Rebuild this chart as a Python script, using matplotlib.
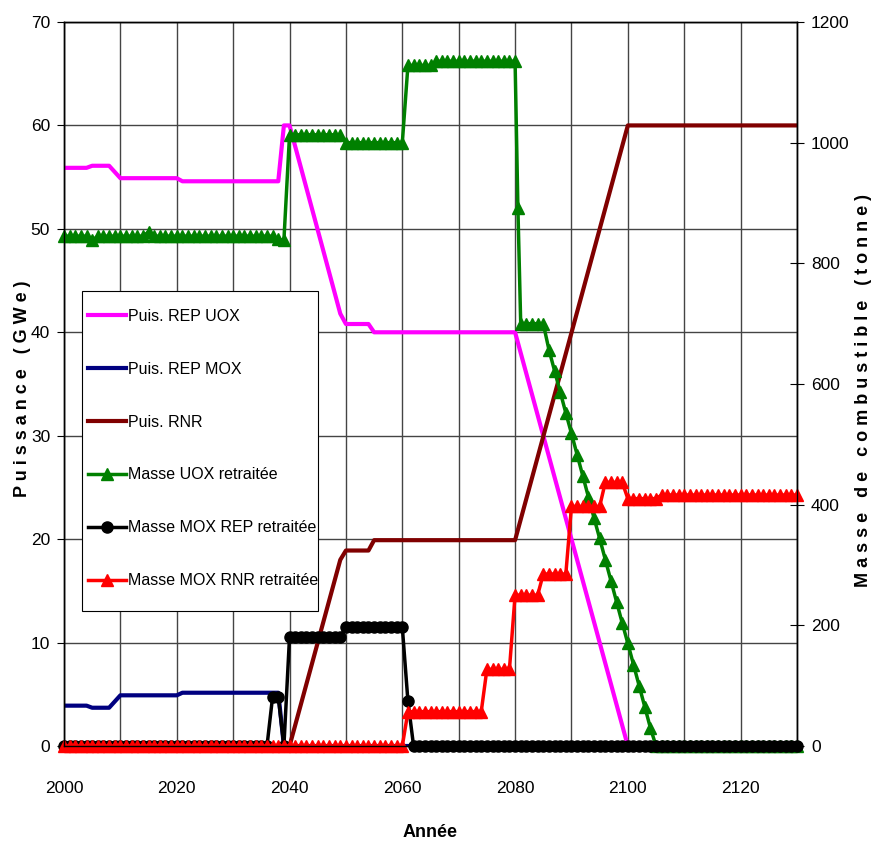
import numpy as np
import matplotlib.pyplot as plt
from matplotlib.patches import Rectangle
from matplotlib.ticker import MultipleLocator

plt.rcParams['font.family'] = ['Liberation Sans', 'DejaVu Sans']

# ---------------------- Données ----------------------
# Puissances (GWe), axe de gauche : sommets des courbes
uox_years = [2000, 2004, 2005, 2008, 2010, 2020, 2021, 2038, 2039, 2040, 2049, 2050, 2054, 2055, 2080, 2100, 2130]
uox_power = [55.9, 55.9, 56.1, 56.1, 54.9, 54.9, 54.6, 54.6, 60.0, 60.0, 41.8, 40.8, 40.8, 40.0, 40.0, 0.0, 0.0]

mox_years = [2000, 2004, 2005, 2008, 2010, 2020, 2021, 2038, 2039, 2130]
mox_power = [3.9, 3.9, 3.7, 3.7, 4.9, 4.9, 5.15, 5.15, 0.0, 0.0]

rnr_years = [2000, 2040, 2049, 2050, 2054, 2055, 2080, 2100, 2130]
rnr_power = [0.0, 0.0, 18.0, 18.9, 18.9, 19.9, 19.9, 60.0, 60.0]

# Masses retraitées (tonne), axe de droite : une valeur par an, 2000..2130
years = np.arange(2000, 2131)

uox_mass = [
    845, 845, 845, 845, 845, 838, 845, 845, 845, 845,
    845, 845, 845, 845, 845, 852, 845, 845, 845, 845,
    845, 845, 845, 845, 845, 845, 845, 845, 845, 845,
    845, 845, 845, 845, 845, 845, 845, 845, 840, 838,
    1013, 1013, 1013, 1013, 1013, 1013, 1013, 1013, 1013, 1013,
    1000, 1000, 1000, 1000, 1000, 1000, 1000, 1000, 1000, 1000,
    1000, 1128, 1128, 1128, 1128, 1128, 1135, 1135, 1135, 1135,
    1135, 1135, 1135, 1135, 1135, 1135, 1135, 1135, 1135, 1135,
    1135, 700, 700, 700, 700, 700, 657, 622, 587, 552,
    518, 483, 448, 413, 378, 344, 309, 274, 239, 204,
    170, 135, 100, 65, 30, 0, 0, 0, 0, 0,
    0, 0, 0, 0, 0, 0, 0, 0, 0, 0,
    0, 0, 0, 0, 0, 0, 0, 0, 0, 0,
    0,
]
# point intermédiaire lors de la chute de 2080
uox_mass_extra_year = 2080.5
uox_mass_extra = 892

mox_rep_mass = [
    0, 0, 0, 0, 0, 0, 0, 0, 0, 0,
    0, 0, 0, 0, 0, 0, 0, 0, 0, 0,
    0, 0, 0, 0, 0, 0, 0, 0, 0, 0,
    0, 0, 0, 0, 0, 0, 0, 82, 82, 0,
    181, 181, 181, 181, 181, 181, 181, 181, 181, 181,
    197, 197, 197, 197, 197, 197, 197, 197, 197, 197,
    197, 74, 0, 0, 0, 0, 0, 0, 0, 0,
    0, 0, 0, 0, 0, 0, 0, 0, 0, 0,
    0, 0, 0, 0, 0, 0, 0, 0, 0, 0,
    0, 0, 0, 0, 0, 0, 0, 0, 0, 0,
    0, 0, 0, 0, 0, 0, 0, 0, 0, 0,
    0, 0, 0, 0, 0, 0, 0, 0, 0, 0,
    0, 0, 0, 0, 0, 0, 0, 0, 0, 0,
    0,
]

mox_rnr_mass = [
    0, 0, 0, 0, 0, 0, 0, 0, 0, 0,
    0, 0, 0, 0, 0, 0, 0, 0, 0, 0,
    0, 0, 0, 0, 0, 0, 0, 0, 0, 0,
    0, 0, 0, 0, 0, 0, 0, 0, 0, 0,
    0, 0, 0, 0, 0, 0, 0, 0, 0, 0,
    0, 0, 0, 0, 0, 0, 0, 0, 0, 0,
    0, 57, 57, 57, 57, 57, 57, 57, 57, 57,
    57, 57, 57, 57, 57, 127, 127, 127, 127, 127,
    250, 250, 250, 250, 250, 285, 285, 285, 285, 285,
    397, 397, 397, 397, 397, 397, 437, 437, 437, 437,
    410, 410, 410, 410, 410, 410, 416, 416, 416, 416,
    416, 416, 416, 416, 416, 416, 416, 416, 416, 416,
    416, 416, 416, 416, 416, 416, 416, 416, 416, 416,
    416,
]

labels = ['Puis. REP UOX', 'Puis. REP MOX', 'Puis. RNR',
          'Masse UOX retraitée', 'Masse MOX REP retraitée', 'Masse MOX RNR retraitée']

# ---------------------- Figure ----------------------
fig = plt.figure(figsize=(8.77, 8.47), dpi=100)
ax = fig.add_axes([64 / 877, 1 - 746 / 847, 733 / 877, 724 / 847])
ax2 = ax.twinx()

l1, = ax.plot(uox_years, uox_power, color='#FF00FF', lw=3, label=labels[0])
l2, = ax.plot(mox_years, mox_power, color='#000080', lw=3, label=labels[1])
l3, = ax.plot(rnr_years, rnr_power, color='#800000', lw=3, label=labels[2])

idx = int(np.searchsorted(years, uox_mass_extra_year))
green_x = np.insert(years.astype(float), idx, uox_mass_extra_year)
green_y = np.insert(np.array(uox_mass, dtype=float), idx, uox_mass_extra)

l4, = ax2.plot(green_x, green_y, color='#008000', lw=2.5, marker='^', ms=8.5,
               label=labels[3], clip_on=False)
l5, = ax2.plot(years, mox_rep_mass, color='black', lw=2.5, marker='o', ms=8,
               label=labels[4], clip_on=False)
l6, = ax2.plot(years, mox_rnr_mass, color='#FF0000', lw=2.5, marker='^', ms=8.5,
               label=labels[5], clip_on=False)

ax.set_xlim(2000, 2130)
ax.set_ylim(0, 70)
ax2.set_ylim(0, 1200)
ax.xaxis.set_major_locator(MultipleLocator(20))
ax.xaxis.set_minor_locator(MultipleLocator(10))
ax.yaxis.set_major_locator(MultipleLocator(10))
ax2.yaxis.set_major_locator(MultipleLocator(200))

ax.grid(True, which='both', axis='x', color='#444444', lw=1.0)
ax.grid(True, which='major', axis='y', color='#444444', lw=1.0)
ax.set_axisbelow(True)

ax.tick_params(axis='y', direction='out', length=5, pad=5, labelsize=12.5)
ax.tick_params(axis='x', which='major', length=0, pad=25, labelsize=12.5)
ax.tick_params(axis='x', which='minor', length=0)
ax2.tick_params(axis='y', direction='inout', length=10, pad=5, labelsize=12.5)

for a in (ax, ax2):
    for s in a.spines.values():
        s.set_color('black')
        s.set_linewidth(1.0)

# cadre de la légende (dessiné à part pour placer les entrées librement)
box = Rectangle((18 / 733, 135 / 724), 236 / 733, 320 / 724, transform=ax2.transAxes,
                facecolor='white', edgecolor='black', lw=0.8, zorder=4.5)
ax2.add_patch(box)
leg = ax2.legend([l1, l2, l3, l4, l5, l6], labels, loc='center left',
                 bbox_to_anchor=(24 / 733, (746 - 448.5) / 724), borderaxespad=0,
                 borderpad=0, fontsize=11.5, frameon=False, numpoints=1,
                 handlelength=2.4, handletextpad=0.12, labelspacing=2.37)
leg.set_zorder(5)

fig.text(23 / 877, 1 - 389 / 847, 'P u i s s a n c e   ( G W e )', rotation=90,
         ha='center', va='center', fontsize=13, fontweight='bold')
fig.text(863 / 877, 1 - 390 / 847, 'M a s s e   d e   c o m b u s t i b l e   ( t o n n e )',
         rotation=90, ha='center', va='center', fontsize=13, fontweight='bold')
fig.text(430 / 877, 1 - 832 / 847, 'Année', ha='center', va='center',
         fontsize=13, fontweight='bold')

fig.savefig('out.png', dpi=100)
